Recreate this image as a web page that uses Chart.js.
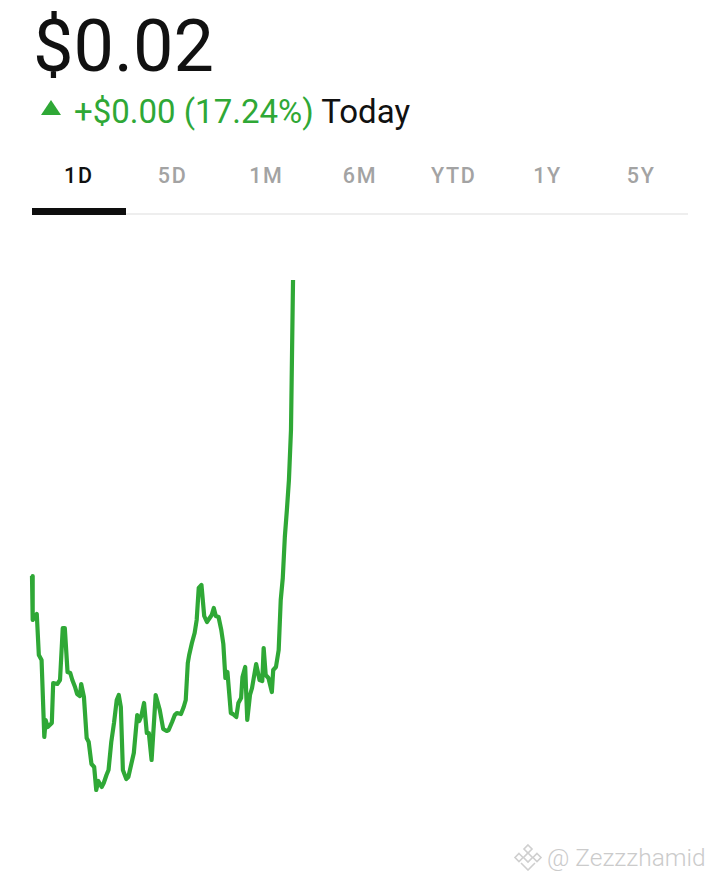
<!DOCTYPE html>
<html>
<head>
<meta charset="utf-8">
<script src="https://cdn.jsdelivr.net/npm/chart.js@4"></script>
<style>
  html, body { margin: 0; padding: 0; background: #fff; }
  body { width: 720px; height: 881px; position: relative; overflow: hidden; font-family: Roboto, "Noto Sans", sans-serif; }
  #price { position: absolute; left: 33px; top: 2px; font-size: 72px; line-height: 90px; color: #111; font-weight: 400; }
  #change { position: absolute; left: 41px; top: 91px; font-size: 33px; line-height: 42px; white-space: nowrap; }
  #change .tri { display: inline-block; width: 0; height: 0; border-left: 10.5px solid transparent; border-right: 10.5px solid transparent; border-bottom: 15px solid #2fa836; margin-right: 13px; vertical-align: 8px; }
  #change .g { color: #2fa836; }
  #change .k { color: #111; }
  #tabs { position: absolute; left: 32px; top: 158px; width: 656px; height: 58px; }
  .tab { position: absolute; top: 0; width: 93.7px; text-align: center; font-size: 21.5px; font-weight: 500; letter-spacing: 1.6px; color: #a3a3a3; line-height: 36px; }
  .tab.sel { color: #111; }
  #rule { position: absolute; left: 32px; top: 213px; width: 656px; height: 2px; background: #eeeeee; }
  #bar { position: absolute; left: 32px; top: 208px; width: 94px; height: 7px; background: #0e0e0e; }
  #chartwrap { position: absolute; left: 0; top: 276px; width: 720px; height: 518px; }
  #wm { position: absolute; left: 513px; top: 840px; height: 34px; display: flex; align-items: center; color: #cbcbcb; font-size: 24.5px; font-weight: 300; white-space: nowrap; }
  #wm svg { margin-right: 4px; }
</style>
</head>
<body>
<div id="price">$0.02</div>
<div id="change"><span class="tri"></span><span class="g">+$0.00 (17.24%)</span> <span class="k">Today</span></div>
<div id="tabs"></div>
<div id="rule"></div>
<div id="bar"></div>
<div id="chartwrap"><canvas id="c" width="720" height="518"></canvas></div>
<div id="wm">
  <svg width="30" height="28" viewBox="0 0 30 28">
    <g fill="none" stroke="#cfcfcf" stroke-width="1.6">
      <path d="M15 2 L19 6 L15 10 L11 6 Z"/>
      <path d="M15 10 L19.5 14.5 L15 19 L10.5 14.5 Z"/>
      <path d="M6 10.5 L10 14.5 L6 18.5 L2 14.5 Z"/>
      <path d="M24 10.5 L28 14.5 L24 18.5 L20 14.5 Z"/>
      <path d="M8 20 L15 27 L22 20"/>
    </g>
  </svg>
  <span>@ Zezzzhamid</span>
</div>
<script>
// Time ranges shown as tabs
const ranges = ["1D", "5D", "1M", "6M", "YTD", "1Y", "5Y"];

// Intraday session (minutes since 4:00), full extended session = 960 minutes
const sessionMinutes = 960;
const times = [0,1,7,10,14,18,20,23,29,31,37,41,45,48,52,56,59,63,66,70,72,76,80,83,87,91,94,97,102,105,109,112,116,120,124,127,130,133,138,141,145,149,154,157,160,164,168,171,175,179,181,187,192,197,200,205,209,212,218,222,225,228,230,234,238,241,244,248,252,256,260,263,266,269,273,277,280,283,286,291,294,299,302,306,308,312,315,319,322,328,333,337,339,342,346,351,353,357,361,364,367,370,373,376,379,380,382];
const prices = [0.01814,0.01770,0.01776,0.01735,0.01730,0.01653,0.01670,0.01663,0.01667,0.01707,0.01706,0.01710,0.01762,0.01762,0.01718,0.01717,0.01710,0.01703,0.01696,0.01694,0.01706,0.01693,0.01652,0.01648,0.01626,0.01623,0.01600,0.01609,0.01603,0.01607,0.01615,0.01620,0.01648,0.01667,0.01690,0.01695,0.01683,0.01620,0.01611,0.01613,0.01625,0.01637,0.01675,0.01669,0.01674,0.01687,0.01657,0.01657,0.01630,0.01673,0.01695,0.01680,0.01661,0.01659,0.01660,0.01668,0.01675,0.01677,0.01676,0.01683,0.01690,0.01727,0.01735,0.01747,0.01757,0.01770,0.01802,0.01805,0.01774,0.01768,0.01772,0.01775,0.01782,0.01774,0.01773,0.01760,0.01746,0.01712,0.01718,0.01677,0.01676,0.01673,0.01687,0.01692,0.01713,0.01723,0.01670,0.01695,0.01702,0.01726,0.01710,0.01709,0.01742,0.01715,0.01712,0.01698,0.01720,0.01723,0.01740,0.01790,0.01812,0.01853,0.01880,0.01910,0.01960,0.02010,0.02110];
const priceMin = 0.01600;
const priceMax = 0.02110;

// tabs
const tabsEl = document.getElementById('tabs');
ranges.forEach((r, i) => {
  const d = document.createElement('div');
  d.className = 'tab' + (i === 0 ? ' sel' : '');
  d.style.left = (i * 656 / ranges.length) + 'px';
  d.textContent = r;
  tabsEl.appendChild(d);
});

const green = '#2fa836';
new Chart(document.getElementById('c'), {
  type: 'line',
  data: {
    datasets: [{
      data: times.map((t, i) => ({ x: t, y: prices[i] })),
      borderColor: green,
      borderWidth: 4.2,
      pointRadius: 0,
      tension: 0,
      fill: false,
      clip: false,
      borderJoinStyle: 'round',
      borderCapStyle: 'butt'
    }]
  },
  options: {
    responsive: false,
    animation: false,
    devicePixelRatio: 1,
    layout: { padding: { left: 32, right: 32, top: 4, bottom: 4 } },
    plugins: { legend: { display: false }, tooltip: { enabled: false } },
    scales: {
      x: { type: 'linear', min: 0, max: sessionMinutes, display: false },
      y: { type: 'linear', min: priceMin, max: priceMax, display: false }
    }
  }
});
</script>
</body>
</html>
